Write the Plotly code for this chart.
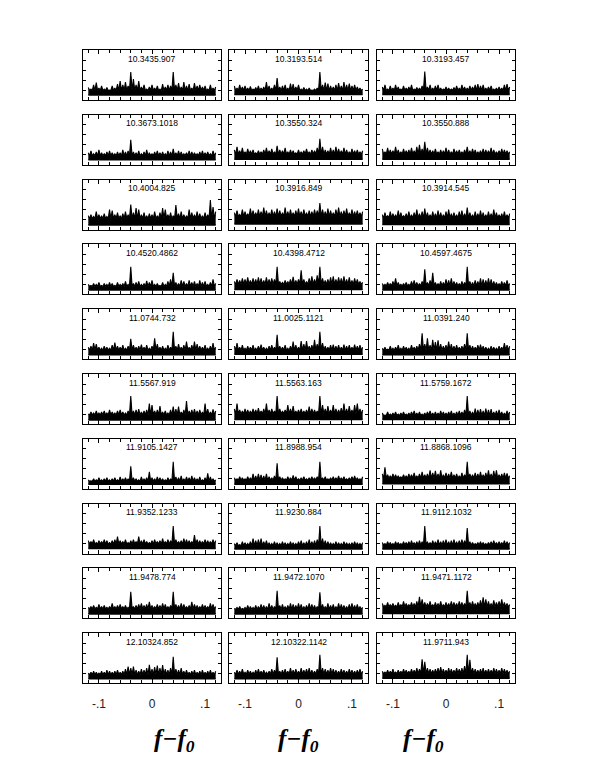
import plotly.graph_objects as go
from plotly.subplots import make_subplots

# panel names, row by row (3 per row)
labels = [
    "10.3435.907", "10.3193.514", "10.3193.457",
    "10.3673.1018", "10.3550.324", "10.3550.888",
    "10.4004.825", "10.3916.849", "10.3914.545",
    "10.4520.4862", "10.4398.4712", "10.4597.4675",
    "11.0744.732", "11.0025.1121", "11.0391.240",
    "11.5567.919", "11.5563.163", "11.5759.1672",
    "11.9105.1427", "11.8988.954", "11.8868.1096",
    "11.9352.1233", "11.9230.884", "11.9112.1032",
    "11.9478.774", "11.9472.1070", "11.9471.1172",
    "12.10324.852", "12.10322.1142", "11.9711.943",
]

# lower edge of each spectrum, % of panel height
floors = [10, 11, 11, 10, 11, 11, 9, 11, 10, 9, 10, 9, 9, 10, 9,
          8, 9, 9, 9, 9, 10, 10, 9, 9, 9, 9, 10, 9, 9, 10]
# top of the solid part of each spectrum, % of panel height
bodies = [19, 19, 19, 18, 21, 21, 22, 26, 23, 16, 20, 17, 18, 18, 18,
          18, 20, 17, 15, 17, 21, 19, 16, 17, 19, 18, 23, 17, 18, 19]

# spectrum peaks, % of panel height, at f-f0 = -0.12 ... 0.12 (step 0.005)
r1c1 = [25, 22, 30, 35, 24, 28, 22, 25, 20, 28, 24, 32, 38, 30, 36, 28, 56, 42, 30, 38, 26, 30, 22, 26, 30,
        24, 28, 22, 32, 26, 30, 28, 56, 30, 34, 26, 36, 28, 32, 24, 34, 28, 30, 26, 28, 22, 30, 24, 26]
r1c2 = [28, 24, 30, 26, 28, 24, 27, 22, 25, 28, 24, 26, 36, 28, 24, 30, 44, 26, 28, 30, 24, 33, 32, 26, 30,
        22, 25, 22, 24, 20, 22, 24, 56, 30, 35, 33, 28, 26, 30, 34, 28, 36, 30, 33, 28, 30, 26, 24, 22]
r1c3 = [26, 30, 22, 28, 24, 30, 26, 22, 28, 24, 26, 30, 22, 25, 24, 28, 57, 26, 30, 24, 28, 30, 24, 22, 26,
        24, 22, 25, 28, 24, 30, 26, 24, 28, 26, 30, 32, 28, 30, 24, 26, 28, 22, 24, 26, 24, 30, 32, 26]
r2c1 = [24, 28, 22, 26, 30, 24, 22, 26, 28, 24, 22, 26, 24, 30, 26, 28, 50, 26, 24, 28, 22, 26, 30, 24, 22,
        26, 28, 24, 26, 22, 28, 26, 32, 24, 28, 26, 22, 24, 28, 26, 24, 22, 26, 28, 24, 26, 22, 28, 24]
r2c2 = [30, 36, 28, 34, 26, 32, 28, 30, 24, 28, 26, 30, 34, 28, 32, 26, 38, 30, 28, 34, 26, 30, 28, 24, 30,
        26, 28, 32, 26, 30, 28, 34, 52, 36, 30, 28, 34, 30, 36, 32, 28, 34, 30, 26, 32, 28, 30, 26, 28]
r2c3 = [32, 26, 34, 30, 28, 36, 30, 26, 32, 28, 30, 34, 28, 36, 40, 32, 46, 34, 30, 28, 32, 26, 30, 28, 34,
        30, 26, 32, 28, 30, 26, 30, 36, 28, 32, 30, 26, 28, 32, 30, 28, 34, 30, 26, 28, 32, 30, 28, 26]
r3c1 = [28, 30, 26, 36, 30, 28, 32, 26, 40, 38, 30, 34, 28, 32, 36, 30, 50, 34, 43, 40, 30, 34, 28, 32, 30,
        36, 28, 34, 43, 40, 30, 34, 28, 49, 32, 36, 30, 28, 40, 34, 30, 36, 32, 28, 34, 30, 59, 45, 36]
r3c2 = [34, 38, 30, 40, 36, 32, 42, 38, 34, 40, 36, 44, 38, 34, 40, 36, 42, 38, 34, 44, 36, 40, 34, 38, 42,
        36, 40, 34, 38, 36, 40, 38, 53, 40, 36, 42, 38, 34, 40, 44, 36, 38, 42, 34, 40, 36, 38, 34, 36]
r3c3 = [30, 34, 28, 36, 32, 30, 38, 34, 28, 32, 36, 30, 34, 40, 32, 36, 42, 34, 30, 36, 32, 38, 34, 30, 36,
        40, 32, 34, 30, 36, 38, 32, 44, 34, 30, 36, 32, 38, 34, 30, 36, 32, 40, 34, 30, 32, 36, 30, 32]
r4c1 = [20, 18, 22, 20, 24, 18, 22, 20, 24, 22, 18, 24, 20, 22, 26, 20, 55, 22, 24, 26, 20, 22, 27, 24, 28,
        20, 22, 18, 24, 20, 26, 30, 43, 24, 22, 28, 26, 22, 28, 24, 26, 22, 28, 24, 26, 20, 24, 30, 22]
r4c2 = [26, 30, 28, 32, 30, 34, 28, 32, 30, 34, 32, 28, 34, 30, 32, 30, 55, 26, 24, 28, 26, 30, 35, 28, 30,
        48, 30, 26, 32, 36, 30, 38, 55, 32, 28, 30, 34, 36, 30, 34, 32, 36, 30, 34, 28, 32, 30, 26, 24]
r4c3 = [22, 20, 24, 22, 26, 32, 24, 20, 22, 24, 20, 26, 28, 24, 22, 26, 50, 24, 28, 43, 24, 22, 26, 24, 30,
        28, 32, 26, 24, 22, 26, 24, 55, 26, 24, 28, 26, 32, 30, 28, 32, 30, 26, 24, 22, 26, 24, 28, 22]
r5c1 = [24, 26, 32, 30, 24, 22, 26, 24, 22, 28, 33, 26, 24, 28, 22, 26, 41, 28, 24, 26, 29, 24, 28, 22, 26,
        42, 30, 24, 26, 22, 28, 24, 55, 26, 30, 24, 28, 35, 24, 28, 35, 30, 26, 24, 28, 22, 26, 32, 24]
r5c2 = [26, 32, 24, 28, 22, 26, 24, 28, 22, 26, 29, 24, 22, 26, 28, 24, 49, 26, 24, 28, 22, 26, 35, 28, 24,
        36, 30, 36, 26, 28, 39, 30, 55, 32, 26, 24, 28, 29, 26, 28, 24, 29, 26, 28, 24, 29, 26, 28, 24]
r5c3 = [22, 24, 20, 26, 22, 24, 28, 22, 26, 24, 22, 28, 24, 26, 30, 52, 30, 42, 28, 39, 34, 38, 30, 26, 28,
        35, 30, 26, 28, 24, 26, 30, 52, 28, 26, 24, 28, 29, 26, 24, 22, 26, 24, 22, 26, 24, 32, 28, 26]
r6c1 = [20, 24, 22, 26, 22, 24, 26, 22, 28, 24, 22, 26, 28, 24, 22, 26, 56, 26, 28, 30, 24, 26, 28, 41, 38,
        26, 28, 36, 24, 26, 22, 28, 35, 30, 35, 24, 28, 46, 26, 28, 30, 26, 28, 24, 41, 30, 24, 29, 26]
r6c2 = [30, 41, 28, 26, 30, 28, 26, 30, 28, 32, 26, 30, 41, 28, 30, 26, 56, 30, 26, 28, 38, 30, 36, 26, 28,
        30, 26, 28, 35, 30, 28, 26, 56, 38, 30, 36, 28, 38, 30, 28, 32, 41, 30, 36, 28, 38, 41, 30, 28]
r6c3 = [22, 18, 24, 20, 22, 24, 20, 22, 24, 20, 22, 24, 26, 22, 24, 20, 22, 24, 26, 22, 24, 22, 26, 24, 22,
        24, 26, 22, 24, 26, 24, 28, 56, 26, 24, 31, 28, 30, 26, 31, 28, 30, 24, 26, 28, 24, 22, 26, 24]
r7c1 = [18, 16, 20, 18, 22, 18, 20, 22, 18, 20, 22, 18, 24, 20, 22, 20, 45, 22, 20, 18, 24, 20, 22, 34, 22,
        20, 24, 22, 20, 18, 22, 20, 54, 24, 22, 26, 20, 24, 22, 26, 22, 20, 24, 18, 22, 31, 24, 20, 18]
r7c2 = [22, 20, 24, 22, 20, 24, 22, 30, 26, 30, 28, 26, 30, 24, 22, 26, 51, 24, 22, 20, 24, 22, 27, 24, 20,
        22, 24, 20, 22, 24, 22, 24, 54, 22, 24, 20, 22, 24, 22, 26, 22, 24, 20, 22, 24, 26, 22, 20, 24]
r7c3 = [30, 43, 28, 26, 30, 28, 26, 24, 28, 26, 30, 28, 32, 26, 30, 34, 28, 30, 37, 32, 36, 30, 37, 28, 32,
        30, 34, 28, 30, 26, 32, 28, 54, 30, 28, 32, 30, 34, 28, 32, 37, 30, 36, 37, 28, 30, 32, 31, 26]
r8c1 = [26, 24, 28, 22, 26, 24, 28, 26, 22, 26, 28, 34, 26, 24, 28, 22, 26, 28, 24, 34, 26, 28, 24, 22, 26,
        28, 24, 26, 30, 24, 28, 26, 55, 28, 24, 26, 30, 28, 26, 24, 37, 28, 26, 24, 28, 26, 24, 28, 26]
r8c2 = [20, 22, 18, 24, 22, 20, 24, 30, 26, 28, 30, 24, 26, 22, 20, 24, 22, 20, 24, 22, 20, 24, 22, 20, 24,
        26, 22, 24, 28, 24, 26, 28, 55, 30, 26, 24, 22, 20, 24, 22, 20, 24, 22, 20, 22, 24, 22, 20, 22]
r8c3 = [22, 20, 24, 22, 20, 24, 22, 20, 24, 22, 24, 26, 22, 24, 26, 24, 55, 24, 22, 26, 24, 28, 24, 26, 28,
        24, 26, 28, 24, 26, 28, 26, 51, 24, 22, 20, 22, 24, 22, 20, 22, 24, 26, 22, 24, 22, 26, 24, 22]
r9c1 = [22, 24, 26, 22, 28, 24, 26, 22, 24, 30, 24, 26, 28, 24, 26, 22, 53, 24, 26, 28, 30, 26, 28, 33, 26,
        24, 28, 26, 30, 28, 24, 26, 53, 28, 26, 30, 28, 24, 26, 33, 28, 26, 24, 28, 26, 24, 30, 28, 24]
r9c2 = [20, 22, 24, 20, 22, 26, 24, 22, 26, 24, 28, 26, 24, 30, 26, 24, 55, 26, 28, 24, 26, 30, 28, 26, 30,
        28, 24, 26, 30, 28, 26, 24, 52, 28, 24, 30, 26, 28, 24, 30, 28, 26, 24, 28, 30, 26, 28, 24, 22]
r9c3 = [30, 26, 32, 28, 30, 26, 32, 28, 34, 30, 28, 32, 30, 34, 43, 38, 32, 30, 34, 28, 32, 30, 34, 28, 32,
        30, 34, 32, 30, 34, 32, 30, 55, 32, 34, 30, 32, 36, 42, 38, 34, 30, 36, 32, 34, 38, 32, 30, 28]
r10c1 = [20, 22, 24, 22, 20, 24, 22, 26, 24, 22, 24, 26, 22, 24, 28, 33, 30, 33, 26, 24, 28, 26, 30, 37, 28,
         32, 35, 30, 36, 28, 26, 30, 53, 28, 26, 30, 24, 26, 22, 24, 26, 22, 24, 26, 22, 24, 26, 22, 24]
r10c2 = [22, 26, 24, 28, 22, 26, 24, 22, 26, 28, 24, 26, 22, 24, 28, 26, 52, 24, 26, 28, 24, 30, 26, 28, 24,
         30, 26, 28, 30, 26, 24, 28, 57, 30, 28, 26, 30, 28, 26, 24, 28, 26, 24, 28, 26, 24, 26, 28, 24]
r10c3 = [24, 22, 26, 24, 28, 22, 26, 24, 28, 26, 24, 28, 26, 30, 28, 48, 43, 30, 28, 26, 28, 30, 32, 28, 26,
         30, 28, 26, 30, 28, 30, 34, 57, 47, 30, 28, 26, 28, 30, 26, 28, 26, 30, 28, 26, 30, 28, 26, 24]

spectra = [r1c1, r1c2, r1c3, r2c1, r2c2, r2c3, r3c1, r3c2, r3c3, r4c1, r4c2, r4c3,
           r5c1, r5c2, r5c3, r6c1, r6c2, r6c3, r7c1, r7c2, r7c3, r8c1, r8c2, r8c3,
           r9c1, r9c2, r9c3, r10c1, r10c2, r10c3]

x_start = -0.12
x_step = 0.005
x_major = [-0.1, 0, 0.1]
x_major_text = ["-.1", "0", ".1"]
x_minor = [-0.12, -0.08, -0.06, -0.04, -0.02, 0.02, 0.04, 0.06, 0.08, 0.12]
y_ticks = [0.2, 0.4, 0.6, 0.8]

W, H = 599, 763
# pixel positions in the page (page body adds an 8 px margin)
col_left = [75, 221, 369]
col_right = [213, 360, 507]
row_top0, row_pitch, panel_h = 42, 64.8, 50

fig = make_subplots(rows=10, cols=3)

for k, vals in enumerate(spectra):
    r, c = k // 3 + 1, k % 3 + 1
    fl = floors[k] / 100
    bd = bodies[k] / 100
    xs, ys = [], []
    for i, v in enumerate(vals):
        xs.append(x_start + i * x_step)
        ys.append(v / 100)
        if i < len(vals) - 1:
            xs.append(x_start + i * x_step + x_step / 2)
            ys.append(bd)
    # solid lower part of the spectrum
    fig.add_trace(go.Scatter(x=[xs[0], xs[-1]], y=[fl, fl], mode="lines",
                             line=dict(color="black", width=1.5),
                             hoverinfo="skip", showlegend=False), row=r, col=c)
    fig.add_trace(go.Scatter(x=xs, y=ys, mode="lines", fill="tonexty",
                             fillcolor="black",
                             line=dict(color="black", width=1.1),
                             hoverinfo="skip", showlegend=False), row=r, col=c)

    top = row_top0 + (r - 1) * row_pitch
    fig.update_xaxes(domain=[col_left[c - 1] / W, col_right[c - 1] / W],
                     range=[-0.13, 0.13], tickvals=x_major, ticktext=x_major_text,
                     showticklabels=(r == 10), row=r, col=c)
    fig.update_yaxes(domain=[1 - (top + panel_h) / H, 1 - top / H],
                     range=[0, 1], tickvals=y_ticks, showticklabels=False,
                     row=r, col=c)

    n = "" if k == 0 else str(k + 1)
    fig.add_annotation(text=labels[k], xref="x" + n + " domain", yref="y" + n + " domain",
                       x=0.5, y=0.83, showarrow=False, yanchor="middle",
                       font=dict(family="Liberation Sans", size=8.5, color="black"))

fig.update_xaxes(showline=True, mirror="ticks", linecolor="black", linewidth=1,
                 ticks="inside", ticklen=4, tickcolor="black", showgrid=False,
                 minor=dict(tickvals=x_minor, ticks="inside", ticklen=3, tickcolor="black"),
                 ticklabelstandoff=9,
                 zeroline=False, tickfont=dict(family="Liberation Sans", size=12, color="#222"))
fig.update_yaxes(showline=True, mirror="ticks", linecolor="black", linewidth=1,
                 ticks="inside", ticklen=3, tickcolor="black", showgrid=False,
                 zeroline=False)

for c in range(3):
    fig.add_annotation(text="f\u2212f<sub>0</sub>",
                       xref="paper", yref="paper",
                       x=(col_left[c] + col_right[c]) / 2 / W, y=1 - 732 / H,
                       showarrow=False, yanchor="middle",
                       font=dict(family="Liberation Serif", size=25, color="black",
                                 weight="bold", style="italic"))

fig.update_layout(width=W, height=H, margin=dict(l=0, r=0, t=0, b=0),
                  plot_bgcolor="white", paper_bgcolor="white")

fig.write_html("out.html")
